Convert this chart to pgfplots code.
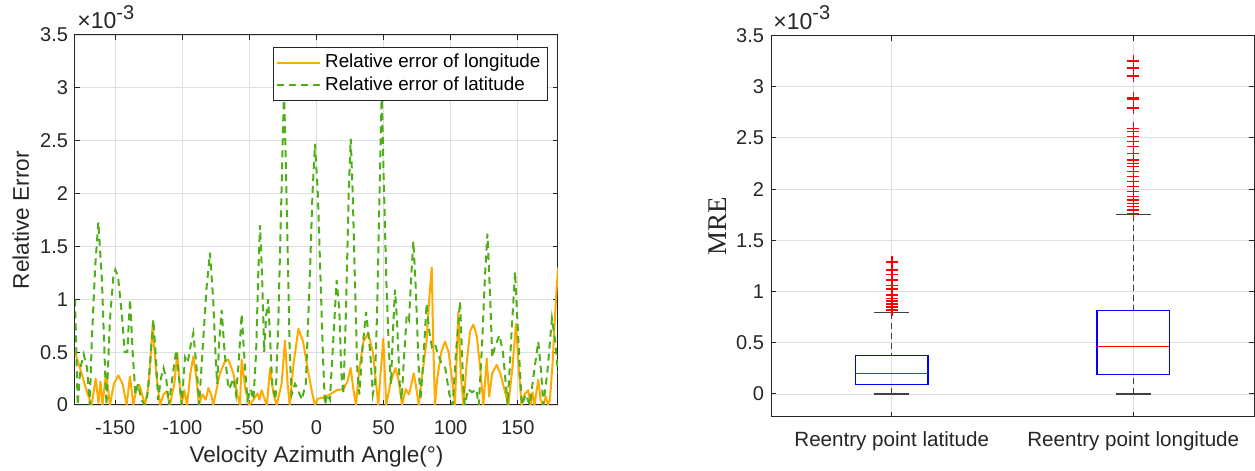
\documentclass[border=0pt]{standalone}
\usepackage{fontspec}
\setmainfont{Liberation Sans}
\newfontfamily\timesfont{Liberation Serif}
\usepackage{pgfplots}
\usepackage{pgfplotstable}
\pgfplotsset{compat=1.18}
\usepgfplotslibrary{statistics}
\definecolor{lonorange}{RGB}{255,170,0}
\definecolor{latgreen}{RGB}{80,175,25}
\definecolor{axgray}{RGB}{38,38,38}
\definecolor{gridgray}{RGB}{222,222,222}

\pgfplotstableread{
ang val
-180 0.50
-177 0.38
-174 0.25
-171 0.12
-167.6 0.00
-164.6 0.25
-162.5 0.02
-161 0.22
-159.5 0.00
-156.9 0.30
-153.9 0.00
-151 0.20
-147.7 0.28
-144.5 0.20
-141.5 0.00
-139 0.27
-136.5 0.00
-134 0.17
-132 0.19
-130 0.10
-127.8 0.00
-125 0.20
-122.1 0.76
-119.5 0.30
-116.6 0.00
-114 0.10
-111.7 0.13
-109.2 0.00
-106 0.20
-103.7 0.49
-102 0.20
-100.5 0.00
-98.5 0.14
-96.5 0.00
-94 0.30
-91.8 0.46
-89.5 0.25
-87.6 0.00
-85 0.10
-82.5 0.05
-80.6 0.16
-78.5 0.10
-76.9 0.00
-72 0.30
-68 0.42
-65.7 0.43
-62 0.30
-59 0.10
-57 0.00
-55.8 0.43
-53 0.15
-50 0.00
-47 0.05
-44 0.11
-42.5 0.05
-40.9 0.14
-38.5 0.05
-37 0.00
-34.6 0.35
-32 0.10
-29.7 0.00
-26 0.20
-23.5 0.61
-21.5 0.20
-20 0.00
-17 0.40
-13.5 0.72
-10 0.60
-6 0.30
-3 0.10
-1.1 0.00
1 0.06
5 0.07
10 0.10
15 0.14
20 0.15
23 0.22
25.5 0.35
27.5 0.15
29.4 0.00
32 0.35
35 0.60
38.6 0.68
42 0.50
44.5 0.20
46 0.00
49.8 0.63
52 0.00
55 0.20
58.8 0.35
61 0.25
63.8 0.00
66.5 0.15
69 0.10
72.5 0.30
74.5 0.15
76.2 0.00
79 0.30
82 0.60
84 1.00
85.9 1.30
87 0.60
88.3 0.00
90 0.25
93 0.50
95.8 0.60
98.5 0.50
101 0.25
103.2 0.00
105.7 0.88
107.5 0.30
109.5 0.00
112 0.40
114.5 0.70
116.9 0.76
119.5 0.65
122 0.35
124.4 0.00
126.9 0.44
128.7 0.08
131 0.30
134.3 0.38
137 0.30
140 0.15
143 0.00
146 0.35
148.7 0.77
151 0.30
152.9 0.00
155 0.10
157.8 0.14
159.5 0.00
161 0.12
162.5 0.00
165.3 0.24
167 0.05
169 0.00
171 0.08
172.5 0.00
174 0.05
176 0.40
178 0.90
180 1.30
}\lontable

\pgfplotstableread{
ang val
-180 1.00
-179 0.50
-178 0.00
-176 0.35
-173.5 0.48
-171 0.35
-169 0.00
-167.5 0.60
-165 1.30
-162.6 1.73
-160 1.20
-157.5 0.30
-156.5 0.00
-154 0.80
-151.5 1.20
-150 1.28
-148 1.22
-145 0.85
-143 0.50
-141 0.50
-139 1.00
-137 0.50
-135 0.10
-133 0.20
-130.5 0.05
-128 0.00
-126 0.10
-124 0.40
-121.6 0.81
-119.5 0.40
-118 0.05
-116 0.25
-114 0.35
-112 0.25
-110 0.00
-107 0.30
-104.5 0.52
-102 0.20
-100.5 0.00
-98 0.45
-96 0.40
-94 0.55
-91.8 0.68
-89 0.30
-87.5 0.00
-85 0.50
-82 1.10
-79.4 1.44
-77 1.00
-75 0.40
-74 0.20
-72.5 0.60
-70.7 0.90
-68.5 0.50
-66 0.20
-65 0.15
-62 0.25
-60 0.10
-58 0.40
-55.8 0.86
-53.5 0.40
-51.5 0.05
-49 0.15
-47 0.05
-45 0.50
-43.5 1.20
-42.1 1.70
-40.5 1.20
-39 0.50
-37.5 0.85
-36 1.00
-34.5 0.60
-33 0.20
-30.5 0.05
-28.5 0.77
-26.5 1.80
-24.2 3.00
-22 1.80
-20 0.50
-18.5 0.10
-16 0.20
-14 0.15
-11 0.05
-8 0.20
-5 1.20
-3 2.00
-1.1 2.47
1 2.00
3 1.20
5 0.40
6.3 0.00
8 0.10
10 0.05
12 0.50
15 1.18
17 0.90
18.5 0.30
20 0.10
22 0.90
24 2.00
25.5 2.52
27 2.00
29 1.00
30.5 0.30
32 0.10
34 0.50
37 0.88
40 0.50
42 0.10
43.5 0.20
45 0.80
47 2.00
48.6 2.95
50 2.20
52 1.20
54 0.50
55.5 0.20
57 0.70
58.5 1.09
60 0.80
62 0.20
63.5 0.05
65 0.40
67.2 0.84
69 0.80
70.5 1.20
72.2 1.55
74 1.10
76 0.40
77.5 0.05
79.5 0.40
82.1 0.96
84 0.70
86 0.55
88.3 0.58
90 0.50
93 0.40
96 0.35
99 0.10
101.6 0.00
104 0.50
107 0.98
109 0.30
110.5 0.00
113 0.15
116 0.12
119 0.15
121 0.00
123.5 0.60
125.5 1.20
127.4 1.62
129.5 1.00
131 0.45
133 0.55
136.3 0.66
139 0.50
142.5 0.00
145 0.60
148 1.26
150.5 0.60
153 0.00
156 0.10
159 0.00
162 0.30
165.3 0.60
167.5 0.30
169 0.00
172 0.30
175.5 0.82
178 0.60
180 0.30
}\lattable

\pgfplotstableread{
pos val
1 0.818
1 0.85
1 0.877
1 0.906
1 0.93
1 0.965
1 1.023
1 1.06
1 1.111
1 1.167
1 1.209
1 1.284
1 1.29
2 1.763
2 1.796
2 1.83
2 1.861
2 1.894
2 1.926
2 1.975
2 2.024
2 2.073
2 2.122
2 2.171
2 2.22
2 2.252
2 2.285
2 2.35
2 2.415
2 2.464
2 2.513
2 2.562
2 2.594
2 2.79
2 2.878
2 2.894
2 3.106
2 3.181
2 3.253
}\outliers

\pgfplotsset{
  mlab/.style={
    scale only axis,
    clip mode=individual,
    axis line style={axgray, line width=0.5pt},
    tick style={axgray, line width=0.5pt},
    major tick length=2.6pt,
    tick align=inside,
    grid=major,
    major grid style={gridgray, line width=0.45pt},
    tick label style={font=\fontsize{10}{12}\selectfont, text=axgray},
    label style={font=\fontsize{11.3}{13}\selectfont, text=axgray},
    ytick={0,0.5,1,1.5,2,2.5,3,3.5},
    yticklabels={0,0.5,1,1.5,2,2.5,3,3.5},
    xticklabel style={yshift=-4pt},
  }
}

\begin{document}
\begin{tikzpicture}
\useasboundingbox (0,0) rectangle (627.5pt,235.5pt);

\begin{axis}[mlab,
  at={(37.5pt,33pt)}, anchor=south west,
  width=241.5pt, height=185pt,
  xmin=-180, xmax=180, ymin=0, ymax=3.5,
  xtick={-150,-100,-50,0,50,100,150},
  xticklabels={-150,-100,-50,0,50,100,150},
  xlabel={Velocity Azimuth Angle(°)},
  ylabel={Relative Error},
  xlabel style={at={(axis description cs:0.5,-0.14)}, anchor=center},
  ylabel style={at={(axis description cs:-0.112,0.5)}, anchor=center},
  legend style={at={(0.979,0.968)}, anchor=north east, draw=axgray, fill=white,
    font=\fontsize{9.4}{11}\selectfont, cells={anchor=west}, inner sep=1.5pt,
    row sep=-1pt, text=black},
  legend image code/.code={\draw[#1] (0cm,0cm) -- (0.75cm,0cm);},
]
\addplot[lonorange, line width=1pt, line join=round] table[x=ang, y=val] {\lontable};
\addlegendentry{Relative error of longitude}
\addplot[latgreen, line width=1pt, dash pattern=on 3.5pt off 2.5pt] table[x=ang, y=val] {\lattable};
\addlegendentry{Relative error of latitude}
\node[anchor=base west, inner sep=0pt, xshift=1pt, yshift=3pt, text=axgray,
  font=\fontsize{11.5}{13}\selectfont] at (rel axis cs:0,1)
  {×10\raisebox{0.8ex}{\fontsize{10}{12}\selectfont -3}};
\end{axis}

\begin{axis}[mlab,
  at={(385.5pt,27pt)}, anchor=south west,
  width=241.5pt, height=190.75pt,
  xmin=0.5, xmax=2.5, ymin=-0.225, ymax=3.5,
  xtick={1,2},
  xticklabels={Reentry point latitude, Reentry point longitude},
  xticklabel style={font=\fontsize{10.3}{12}\selectfont},
  ylabel={\timesfont\fontsize{13.5}{15}\selectfont MRE},
  ylabel style={at={(axis description cs:-0.11,0.5)}, anchor=center},
  boxplot/draw direction=y,
  boxplot/every box/.style={draw=blue, line width=0.6pt},
  boxplot/every median/.style={draw=red, line width=0.6pt},
  boxplot/draw/lower whisker/.code={%
    \draw[black!75, line width=0.6pt, dash pattern=on 3pt off 2pt]
      (boxplot box cs:\pgfplotsboxplotvalue{lower whisker},0.5) --
      (boxplot box cs:\pgfplotsboxplotvalue{lower quartile},0.5);
    \draw[black!75, line width=0.6pt]
      (boxplot whisker cs:\pgfplotsboxplotvalue{lower whisker},0) --
      (boxplot whisker cs:\pgfplotsboxplotvalue{lower whisker},1);
  },
  boxplot/draw/upper whisker/.code={%
    \draw[black!75, line width=0.6pt, dash pattern=on 3pt off 2pt]
      (boxplot box cs:\pgfplotsboxplotvalue{upper whisker},0.5) --
      (boxplot box cs:\pgfplotsboxplotvalue{upper quartile},0.5);
    \draw[black!75, line width=0.6pt]
      (boxplot whisker cs:\pgfplotsboxplotvalue{upper whisker},0) --
      (boxplot whisker cs:\pgfplotsboxplotvalue{upper whisker},1);
  },
]
\addplot[black, boxplot prepared={draw position=1, lower whisker=0, lower quartile=0.095,
    median=0.199, upper quartile=0.372, upper whisker=0.792,
    box extend=0.3, whisker extend=0.146}]
  coordinates {};
\addplot[black, boxplot prepared={draw position=2, lower whisker=0, lower quartile=0.192,
    median=0.46, upper quartile=0.818, upper whisker=1.75,
    box extend=0.3, whisker extend=0.146}]
  coordinates {};
\addplot[only marks, mark=+, mark size=3pt, color=red, mark options={solid, line width=0.75pt}]
  table[x=pos, y=val] {\outliers};
\node[anchor=base west, inner sep=0pt, xshift=1pt, yshift=3pt, text=axgray,
  font=\fontsize{11.5}{13}\selectfont] at (rel axis cs:0,1)
  {×10\raisebox{0.8ex}{\fontsize{10}{12}\selectfont -3}};
\end{axis}
\end{tikzpicture}
\end{document}
